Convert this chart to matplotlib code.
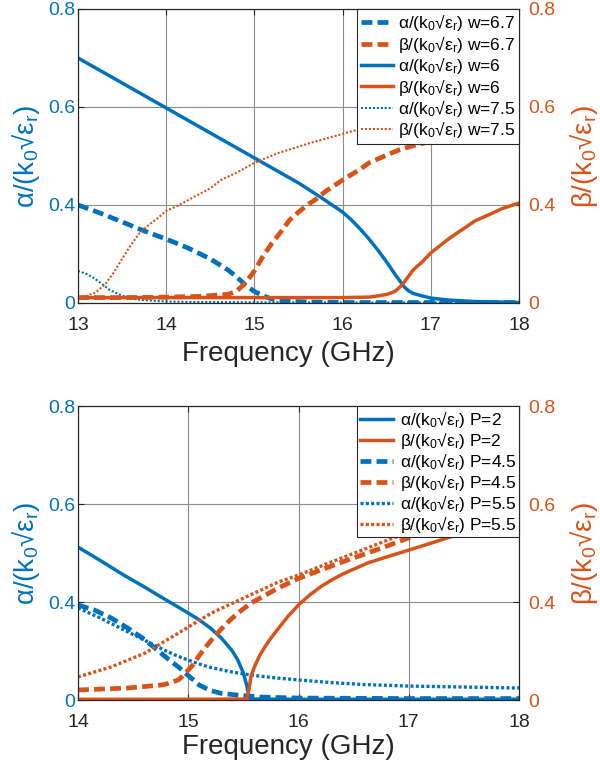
import numpy as np
import matplotlib
matplotlib.use("Agg")
import matplotlib.pyplot as plt

plt.rcParams['font.family'] = ['Liberation Sans', 'DejaVu Sans']
plt.rcParams['mathtext.default'] = 'regular'

BLUE = '#0072BD'
ORANGE = '#D95319'

# ---------------- upper panel: strip width w ----------------
f_a_w67 = [13.0, 13.25, 13.5, 13.75, 14.0, 14.25, 14.5, 14.7, 14.8, 14.9, 15.0, 15.1, 15.2,
           15.35, 15.6, 16.0, 17.0, 18.0]
a_w67 = [0.400, 0.367, 0.331, 0.294, 0.261, 0.224, 0.180, 0.135, 0.106, 0.073, 0.047, 0.029,
         0.016, 0.008, 0.004, 0.002, 0.002, 0.002]

f_b_w67 = [13.0, 13.5, 14.0, 14.4, 14.6, 14.7, 14.8, 14.9, 15.0, 15.1, 15.2, 15.3, 15.4, 15.5,
           15.6, 15.7, 15.8, 15.9, 16.0, 16.1, 16.2, 16.3, 16.5, 16.65, 16.8, 17.0, 17.5, 18.0]
b_w67 = [0.022, 0.022, 0.024, 0.027, 0.033, 0.035, 0.049, 0.082, 0.131, 0.192, 0.245, 0.290,
         0.339, 0.371, 0.400, 0.412, 0.427, 0.439, 0.451, 0.462, 0.473, 0.486, 0.502, 0.513,
         0.521, 0.530, 0.547, 0.561]

f_a_w6 = [13.0, 13.5, 14.0, 14.5, 15.0, 15.5, 15.75, 16.0, 16.1, 16.2, 16.3, 16.4, 16.5, 16.6,
          16.65, 16.7, 16.75, 16.8, 16.9, 17.0, 17.2, 17.5, 18.0]
a_w6 = [0.700, 0.649, 0.598, 0.547, 0.496, 0.445, 0.416, 0.371, 0.339, 0.302, 0.261, 0.216,
        0.167, 0.114, 0.090, 0.065, 0.049, 0.039, 0.029, 0.020, 0.012, 0.006, 0.002]

f_b_w6 = [13.0, 14.0, 15.0, 16.0, 16.3, 16.4, 16.5, 16.55, 16.6, 16.65, 16.7, 16.75, 16.8,
          16.9, 17.0, 17.1, 17.2, 17.3, 17.4, 17.5, 17.6, 17.7, 17.8, 17.9, 18.0]
b_w6 = [0.022, 0.022, 0.022, 0.022, 0.024, 0.029, 0.035, 0.041, 0.049, 0.065, 0.086, 0.110,
        0.135, 0.167, 0.204, 0.233, 0.261, 0.286, 0.310, 0.335, 0.351, 0.367, 0.384, 0.396, 0.404]

f_a_w75 = [13.0, 13.1, 13.18, 13.27, 13.36, 13.48, 13.6, 13.74, 14.0, 14.3, 15.0, 16.0, 18.0]
a_w75 = [0.131, 0.118, 0.102, 0.078, 0.053, 0.033, 0.018, 0.012, 0.006, 0.004, 0.003, 0.002, 0.002]

f_b_w75 = [13.0, 13.1, 13.2, 13.3, 13.4, 13.5, 13.6, 13.7, 13.8, 13.9, 14.0, 14.1, 14.2, 14.33,
           14.5, 14.62, 14.8, 15.0, 15.27, 15.64, 16.14, 16.5, 17.0, 17.5, 18.0]
b_w75 = [0.022, 0.029, 0.043, 0.073, 0.122, 0.180, 0.237, 0.286, 0.318, 0.345, 0.376, 0.392,
         0.405, 0.418, 0.434, 0.451, 0.466, 0.486, 0.506, 0.527, 0.552, 0.569, 0.590, 0.606, 0.620]

# ---------------- lower panel: period P ----------------
f_a_p2 = [14.0, 14.2, 14.4, 14.6, 14.8, 15.0, 15.1, 15.2, 15.3, 15.4, 15.45, 15.5, 15.53,
          15.55, 15.56, 16.0, 17.0, 18.0]
a_p2 = [0.512, 0.485, 0.457, 0.431, 0.404, 0.355, 0.327, 0.294, 0.253, 0.200, 0.163, 0.110,
        0.061, 0.016, 0.004, 0.003, 0.003, 0.003]

f_b_p2 = [14.0, 15.0, 15.53, 15.55, 15.57, 15.6, 15.65, 15.7, 15.75, 15.8, 15.9, 16.0, 16.1,
          16.2, 16.3, 16.4, 16.5, 16.63, 16.8, 17.0, 17.2, 17.38, 17.63, 18.0]
b_p2 = [0.003, 0.003, 0.004, 0.041, 0.098, 0.135, 0.184, 0.220, 0.253, 0.282, 0.339, 0.388,
        0.414, 0.431, 0.445, 0.457, 0.467, 0.480, 0.492, 0.506, 0.520, 0.533, 0.551, 0.573]

f_a_p45 = [14.0, 14.15, 14.3, 14.45, 14.61, 14.75, 14.91, 15.0, 15.1, 15.2, 15.3, 15.45, 15.66,
           16.0, 17.0, 18.0]
a_p45 = [0.388, 0.367, 0.335, 0.294, 0.245, 0.192, 0.135, 0.100, 0.061, 0.039, 0.027, 0.020,
         0.012, 0.008, 0.006, 0.006]

f_b_p45 = [14.0, 14.45, 14.75, 14.8, 14.91, 14.95, 15.0, 15.05, 15.09, 15.15, 15.21, 15.3, 15.36,
           15.45, 15.57, 15.7, 15.82, 16.0, 16.2, 16.4, 16.6, 16.8, 17.0, 17.5, 18.0]
b_p45 = [0.041, 0.049, 0.061, 0.065, 0.082, 0.098, 0.122, 0.147, 0.176, 0.212, 0.245, 0.290,
         0.318, 0.355, 0.396, 0.414, 0.429, 0.448, 0.465, 0.482, 0.498, 0.514, 0.531, 0.563, 0.588]

f_a_p55 = [14.0, 14.2, 14.4, 14.6, 14.8, 14.9, 15.0, 15.1, 15.2, 15.4, 15.6, 15.8, 16.0, 16.3,
           16.6, 17.0, 17.5, 18.0]
a_p55 = [0.376, 0.335, 0.290, 0.245, 0.200, 0.180, 0.163, 0.147, 0.133, 0.114, 0.100, 0.090,
         0.082, 0.071, 0.063, 0.057, 0.053, 0.049]

f_b_p55 = [14.0, 14.3, 14.61, 14.91, 15.21, 15.52, 15.82, 16.0, 16.3, 16.6, 16.86, 17.5, 18.0]
b_p55 = [0.094, 0.135, 0.192, 0.273, 0.355, 0.410, 0.441, 0.455, 0.482, 0.508, 0.531, 0.578, 0.608]

y_ticks = [0, 0.4, 0.6, 0.8]
y_ticklabels = ['0', '0.4', '0.6', '0.8']
x_ticks_top = [13, 14, 15, 16, 17, 18]
x_ticks_bot = [14, 15, 16, 17, 18]

ALPHA_LBL = 'α/(k$_0$√ε$_r$)'
BETA_LBL = 'β/(k$_0$√ε$_r$)'


# piecewise-linear axis: equal spacing between the ticks 0, 0.4, 0.6, 0.8
def fwd(v):
    v = np.asarray(v, dtype=float)
    return np.where(v < 0.4, v / 0.4, np.where(v < 0.6, 1 + (v - 0.4) / 0.2, 2 + (v - 0.6) / 0.2))


def inv(p):
    p = np.asarray(p, dtype=float)
    return np.where(p < 1, 0.4 * p, np.where(p < 2, 0.4 + 0.2 * (p - 1), 0.6 + 0.2 * (p - 2)))


STYLES = {
    'dash': dict(lw=3.4, ls=(0, (2.3, 1.1)), dash_capstyle='butt'),
    'solid': dict(lw=2.5, ls='-'),
    'dot_thin': dict(lw=1.5, ls=(0, (1.0, 0.9))),
    'dot_thick': dict(lw=2.4, ls=(0, (0.9, 0.7))),
}


def setup_panel(rect, xlim, xticks, xlabel_y):
    ax = fig.add_axes(rect)
    ax2 = ax.twinx()
    for a in (ax, ax2):
        a.set_yscale('function', functions=(fwd, inv))
        a.set_ylim(0, 0.8)
        a.set_yticks(y_ticks)
        a.set_yticklabels(y_ticklabels)
        a.set_xlim(*xlim)
        a.set_xticks(xticks)
        for s in a.spines.values():
            s.set_color('#262626')
            s.set_linewidth(0.8)
    ax.grid(True, color='#8c8c8c', lw=0.8)
    ax.set_axisbelow(True)
    ax.tick_params(axis='x', top=True, direction='in', length=4, labelsize=14,
                   colors='#262626', pad=10)
    ax.tick_params(axis='y', right=False, direction='in', length=4, labelsize=14,
                   labelcolor=BLUE, color='#262626', pad=2)
    ax2.tick_params(axis='y', direction='in', length=4, labelsize=14,
                    labelcolor=ORANGE, color='#262626', pad=7)
    ax.set_xlabel('Frequency (GHz)', fontsize=20, color='#262626')
    ax.xaxis.set_label_coords(0.477, xlabel_y)
    ax.set_ylabel(ALPHA_LBL, fontsize=20, color=BLUE)
    ax.yaxis.set_label_coords(-0.081, 0.5)
    ax2.set_ylabel(BETA_LBL, fontsize=20, color=ORANGE, rotation=90)
    ax2.yaxis.set_label_coords(1.110, 0.5)
    return ax, ax2


fig = plt.figure(figsize=(6.0, 7.69), dpi=100)

# upper panel
axA, axA2 = setup_panel([0.130, 0.606, 0.735, 0.3823], (13, 18), x_ticks_top, -0.129)
h1, = axA.plot(f_a_w67, a_w67, color=BLUE, **STYLES['dash'])
h2, = axA2.plot(f_b_w67, b_w67, color=ORANGE, **STYLES['dash'])
h3, = axA.plot(f_a_w6, a_w6, color=BLUE, **STYLES['solid'])
h4, = axA2.plot(f_b_w6, b_w6, color=ORANGE, **STYLES['solid'])
h5, = axA.plot(f_a_w75, a_w75, color=BLUE, **STYLES['dot_thin'])
h6, = axA2.plot(f_b_w75, b_w75, color=ORANGE, **STYLES['dot_thin'])
legA = axA2.legend([h1, h2, h3, h4, h5, h6],
                   [ALPHA_LBL + ' w=6.7', BETA_LBL + ' w=6.7', ALPHA_LBL + ' w=6',
                    BETA_LBL + ' w=6', ALPHA_LBL + ' w=7.5', BETA_LBL + ' w=7.5'],
                   loc='upper right', borderaxespad=0, fontsize=12.5, fancybox=False,
                   framealpha=1, edgecolor='#262626', handlelength=1.85,
                   handletextpad=0.3, labelspacing=0.02, borderpad=0.2)
legA.get_frame().set_linewidth(0.8)

# lower panel
axB, axB2 = setup_panel([0.130, 0.0897, 0.735, 0.3823], (14, 18), x_ticks_bot, -0.116)
g1, = axB.plot(f_a_p2, a_p2, color=BLUE, **STYLES['solid'])
g2, = axB2.plot(f_b_p2, b_p2, color=ORANGE, **STYLES['solid'])
g3, = axB.plot(f_a_p45, a_p45, color=BLUE, **STYLES['dash'])
g4, = axB2.plot(f_b_p45, b_p45, color=ORANGE, **STYLES['dash'])
g5, = axB.plot(f_a_p55, a_p55, color=BLUE, **STYLES['dot_thick'])
g6, = axB2.plot(f_b_p55, b_p55, color=ORANGE, **STYLES['dot_thick'])
legB = axB2.legend([g1, g2, g3, g4, g5, g6],
                   [ALPHA_LBL + ' P=2', BETA_LBL + ' P=2', ALPHA_LBL + ' P=4.5',
                    BETA_LBL + ' P=4.5', ALPHA_LBL + ' P=5.5', BETA_LBL + ' P=5.5'],
                   loc='upper right', borderaxespad=0, fontsize=12.5, fancybox=False,
                   framealpha=1, edgecolor='#262626', handlelength=1.9,
                   handletextpad=0.4, labelspacing=0.0, borderpad=0.15)
legB.get_frame().set_linewidth(0.8)

fig.savefig('out.png', dpi=100)
